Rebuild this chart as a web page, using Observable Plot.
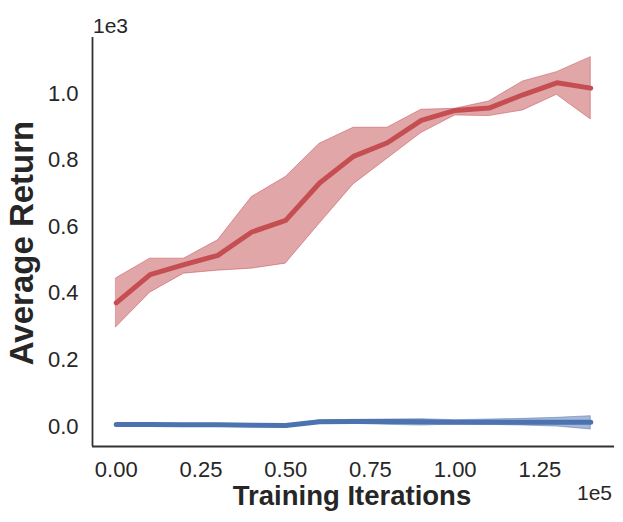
<!DOCTYPE html>
<html><head><meta charset="utf-8">
<script src="https://cdn.jsdelivr.net/npm/d3@7"></script>
<script src="https://cdn.jsdelivr.net/npm/@observablehq/plot@0.6"></script>
<style>body{margin:0;background:#fff;} svg{display:block}</style>
</head><body><div id="chart"></div>
<script>
const iterations = [0,10000,20000,30000,40000,50000,60000,70000,80000,90000,100000,110000,120000,130000,140000];
const redMean  = [371,456,486,514,584,619,731,811,852,919,949,956,996,1032,1016];
const redLower = [298,402,459,468,474,489,609,727,804,881,934,932,949,996,922];
const redUpper = [445,504,504,559,689,749,849,897,897,951,954,976,1036,1064,1109];
const blueMean  = [6,6,5,5,4,3,14,15,15,14,13,13,13,13,13];
const blueLower = [4,4,3,3,2,1,9,8,5,3,6,5,3,0,-9];
const blueUpper = [8,8,7,7,6,5,18,20,21,22,19,21,23,26,31];
const seriesNames = ["Method A", "Method B"];
const xTicks = [0,25000,50000,75000,100000,125000];
const yTicks = [0,200,400,600,800,1000];
const xDomain = [-7000,147000];
const yDomain = [-60,1168];

function rows(name, mean, lo, hi){
  return iterations.map((x,i)=>({series:name, x, mean:mean[i], lo:lo[i], hi:hi[i]}));
}
const data = [...rows(seriesNames[0], redMean, redLower, redUpper), ...rows(seriesNames[1], blueMean, blueLower, blueUpper)];

const chart = Plot.plot({
  width:623, height:522,
  marginLeft:92, marginRight:9, marginTop:37, marginBottom:76,
  style:{fontFamily:"'Liberation Sans', Arial, sans-serif", fontSize:"22px", color:"#262626", background:"#fff"},
  x:{domain:xDomain},
  y:{domain:yDomain},
  color:{domain:seriesNames, range:["#C44E52","#4C72B0"]},
  marks:[
    Plot.areaY(data,{x:"x", y1:"lo", y2:"hi", fill:"series", fillOpacity:0.5, stroke:"series", strokeOpacity:0.5, strokeWidth:1}),
    Plot.lineY(data,{x:"x", y:"mean", stroke:"series", strokeWidth:5}),
    Plot.axisX({ticks:xTicks, tickSize:0, tickPadding:15, tickFormat:d=>(d/1e5).toFixed(2), label:null}),
    Plot.axisY({ticks:yTicks, tickSize:0, tickPadding:14, tickFormat:d=>(d/1e3).toFixed(1), label:null}),
    Plot.ruleX([xDomain[0]], {stroke:"#333", strokeWidth:1.8}),
    Plot.ruleY([yDomain[0]], {stroke:"#333", strokeWidth:1.8})
  ]
});
document.getElementById("chart").appendChild(chart);

const svg = d3.select(chart);
const font = "'Liberation Sans', Arial, sans-serif";
svg.append("text").text("Average Return")
  .attr("transform","translate(33,243) rotate(-90)")
  .attr("text-anchor","middle").attr("fill","#262626")
  .style("font-family",font).style("font-size","33px").style("font-weight","bold");
svg.append("text").text("Training Iterations")
  .attr("x",352).attr("y",505)
  .attr("text-anchor","middle").attr("fill","#262626")
  .style("font-family",font).style("font-size","27.5px").style("font-weight","bold");
svg.append("text").text("1e3")
  .attr("x",93).attr("y",33)
  .attr("text-anchor","start").attr("fill","#262626")
  .style("font-family",font).style("font-size","21px");
svg.append("text").text("1e5")
  .attr("x",612).attr("y",500)
  .attr("text-anchor","end").attr("fill","#262626")
  .style("font-family",font).style("font-size","21px");
</script>
</body></html>
